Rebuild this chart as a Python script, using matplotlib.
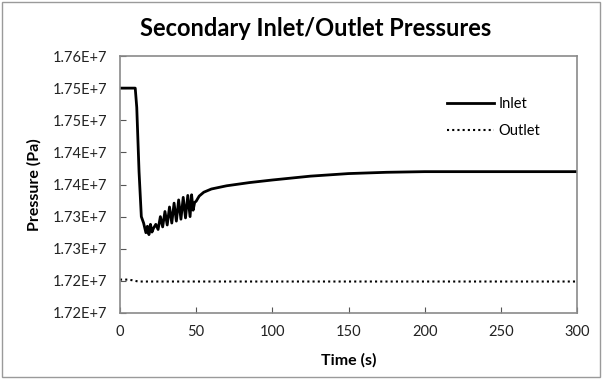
import matplotlib
matplotlib.use("Agg")
from matplotlib import pyplot as plt
from matplotlib.patches import Rectangle

# inlet pressure (1e7 Pa) vs time (s)
t_in = [0, 10, 11, 12.5, 14, 15.5, 17, 18, 19, 20, 21, 22, 23.5, 25, 26.5,
        28, 29.5, 31, 32.5, 34, 35.5, 37, 38.5, 40, 41.5, 43, 44.5, 46, 47,
        48, 49, 50, 52, 55, 60, 70, 85, 100, 125, 150, 175, 200, 300]
p_in = [1.7550, 1.7550, 1.7520, 1.7420, 1.7350, 1.7340, 1.7325, 1.7335,
        1.7322, 1.7338, 1.7326, 1.7332, 1.7338, 1.7330, 1.7350, 1.7334,
        1.7358, 1.7337, 1.7365, 1.7340, 1.7371, 1.7343, 1.7376, 1.7346,
        1.7380, 1.7348, 1.7383, 1.7350, 1.7384, 1.7360, 1.7372, 1.7374,
        1.7382, 1.7388, 1.7393, 1.7398, 1.7403, 1.7407, 1.7413, 1.7417,
        1.7419, 1.7420, 1.7420]

# outlet pressure (1e7 Pa)
t_out = [0, 5, 8, 12, 300]
p_out = [1.7252, 1.7252, 1.7251, 1.7249, 1.7249]

y_ticks = [1.720, 1.725, 1.730, 1.735, 1.740, 1.745, 1.750, 1.755, 1.760]
y_labels = ["1.72E+7", "1.72E+7", "1.73E+7", "1.73E+7", "1.74E+7",
            "1.74E+7", "1.75E+7", "1.75E+7", "1.76E+7"]
x_ticks = [0, 50, 100, 150, 200, 250, 300]

plt.rcParams['font.family'] = ['Lato', 'DejaVu Sans']

fig = plt.figure(figsize=(6.02, 3.79), dpi=100)
ax = fig.add_axes([120/602, 1-313/379, 457/602, 257/379])

ax.plot(t_in, p_in, color='black', lw=2, label='Inlet')
ax.plot(t_out, p_out, color='black', lw=1.5, ls=(0, (1, 1.5)), label='Outlet')

ax.set_xlim(0, 300)
ax.set_ylim(1.720, 1.760)
ax.set_xticks(x_ticks)
ax.set_yticks(y_ticks)
ax.set_yticklabels(y_labels)
ax.tick_params(direction='in', length=4, color='#555555', labelsize=10.5,
               labelcolor='#222222', pad=9)
for s in ax.spines.values():
    s.set_color('#8a8a8a')
    s.set_linewidth(1.2)

ax.set_xlabel("Time (s)", fontsize=11.5, fontweight='bold', labelpad=10)
ax.set_ylabel("Pressure (Pa)", fontsize=11.5, fontweight='bold', labelpad=8)
fig.text(0.525, 1-29/379, "Secondary Inlet/Outlet Pressures", ha='center',
         va='center', fontsize=17, fontweight='bold')

ax.legend(loc='upper left', bbox_to_anchor=(0.70, 0.87), frameon=False,
          handlelength=3.2, handletextpad=0.3, labelspacing=0.9,
          borderpad=0, fontsize=10.5)

fig.patches.append(Rectangle((0.004, 0.004), 0.992, 0.992, transform=fig.transFigure,
                             fill=False, edgecolor='#9a9a9a', lw=1))

fig.savefig("out.png", dpi=100)
